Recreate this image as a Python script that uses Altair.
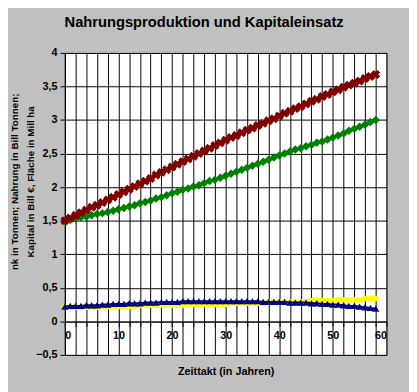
import altair as alt
import pandas as pd

years = list(range(0, 59))
red = [1.50, 1.54, 1.58, 1.62, 1.66, 1.70, 1.73, 1.77, 1.81, 1.85, 1.89,
       1.93, 1.97, 2.01, 2.05, 2.09, 2.13, 2.18, 2.22, 2.26, 2.30,
       2.34, 2.38, 2.42, 2.46, 2.50, 2.54, 2.58, 2.62, 2.66, 2.70,
       2.74, 2.77, 2.81, 2.85, 2.88, 2.92, 2.95, 2.99, 3.02, 3.06,
       3.10, 3.13, 3.17, 3.20, 3.24, 3.28, 3.31, 3.35, 3.38, 3.42,
       3.45, 3.49, 3.52, 3.55, 3.58, 3.62, 3.65, 3.68]
green = [1.50, 1.51, 1.53, 1.55, 1.56, 1.58, 1.60, 1.61, 1.63, 1.65, 1.67,
         1.69, 1.71, 1.73, 1.76, 1.78, 1.80, 1.83, 1.85, 1.88, 1.91,
         1.93, 1.96, 1.98, 2.01, 2.03, 2.06, 2.09, 2.11, 2.14, 2.17,
         2.20, 2.23, 2.26, 2.29, 2.32, 2.35, 2.38, 2.41, 2.44, 2.47,
         2.50, 2.53, 2.56, 2.58, 2.61, 2.63, 2.66, 2.68, 2.71, 2.74,
         2.77, 2.80, 2.84, 2.87, 2.90, 2.93, 2.97, 3.00]
yellow = ([0.21] * 7 + [0.22] * 7 + [0.24] * 9 + [0.25] * 8 + [0.27] * 7 +
          [0.29] * 8 + [0.31] * 5 + [0.32] * 5 + [0.34] * 3)
blue = [0.22, 0.23, 0.23, 0.23, 0.24, 0.24, 0.24, 0.25, 0.25, 0.26, 0.26,
        0.26, 0.27, 0.27, 0.27, 0.28, 0.28, 0.28, 0.29, 0.29, 0.29,
        0.29, 0.30, 0.30, 0.30, 0.30, 0.30, 0.30, 0.30, 0.30, 0.30,
        0.30, 0.30, 0.30, 0.30, 0.30, 0.30, 0.29, 0.29, 0.29, 0.29,
        0.29, 0.28, 0.28, 0.28, 0.28, 0.27, 0.27, 0.26, 0.26, 0.25,
        0.25, 0.24, 0.23, 0.23, 0.22, 0.21, 0.20, 0.19]

x_ticks = list(range(0, 61, 2))
y_ticks = [-0.5, 0, 0.5, 1, 1.5, 2, 2.5, 3, 3.5, 4]

title = "Nahrungsproduktion und Kapitaleinsatz"
x_title = "Zeittakt (in Jahren)"
y_title = ["nk in Tonnen; Nahrung in Bill Tonnen;", "Kapital in Bill €, Fläche in Mill ha"]

FONT = "Arial"

x_enc = alt.X("t:Q",
              scale=alt.Scale(domain=[0, 60], nice=False, zero=False),
              axis=alt.Axis(values=x_ticks, offset=-34,
                            labelExpr="datum.value % 10 == 0 ? datum.label : ''",
                            grid=True, gridColor="black", gridOpacity=1, gridWidth=1,
                            domainColor="black", tickColor="black", tickSize=5,
                            labelPadding=3, labelFont=FONT, labelFontSize=11,
                            labelFontWeight="bold", labelColor="black",
                            title=x_title, titleFont=FONT, titleFontSize=11,
                            titleFontWeight="bold", titleColor="black",
                            titleY=54, titleBaseline="alphabetic"))
y_enc = alt.Y("v:Q",
              scale=alt.Scale(domain=[-0.5, 4], nice=False, zero=False),
              axis=alt.Axis(values=y_ticks,
                            labelExpr="replace(format(datum.value, ''), '.', ',')",
                            grid=True, gridColor="black", gridOpacity=1, gridWidth=1,
                            domainColor="black", tickColor="black", tickSize=5,
                            labelPadding=3, labelFont=FONT, labelFontSize=11,
                            labelFontWeight="bold", labelColor="black",
                            title=y_title, titleFont=FONT, titleFontSize=10,
                            titleFontWeight="bold", titleColor="black",
                            titleX=-56, titleY=131, titleAngle=-90,
                            titleBaseline="top", titleAlign="center",
                            titleLineHeight=16))


def series(vals, color, shape, size, angle=0, width=1.5):
    d = pd.DataFrame({"t": years, "v": vals})
    base = alt.Chart(d).encode(x=x_enc, y=y_enc)
    line = base.mark_line(color=color, strokeWidth=width)
    pts = base.mark_point(shape=shape, filled=True, color=color, size=size,
                          angle=angle, opacity=1)
    return line + pts


yel = series(yellow, "#FFFF00", "square", 30, width=4)
blu = series(blue, "#000080", "triangle-up", 55, width=2)
grn = series(green, "#008000", "diamond", 75, width=2)
rd = series(red, "#800000", "cross", 85, angle=45, width=2)

chart = alt.layer(yel, blu, grn, rd).properties(
    width=328, height=308,
    autosize=alt.AutoSizeParams(type="none"),
    padding={"left": 58, "top": 42, "right": 23, "bottom": 34},
    background="#C0C0C0",
    title=alt.TitleParams(title, font=FONT, fontSize=15, fontWeight="bold",
                          color="black", anchor="middle", dx=-22, offset=17),
).configure_view(stroke="#808080", fill="white", strokeWidth=1)

chart.save("out.html", embed_options={"renderer": "svg", "actions": False})
